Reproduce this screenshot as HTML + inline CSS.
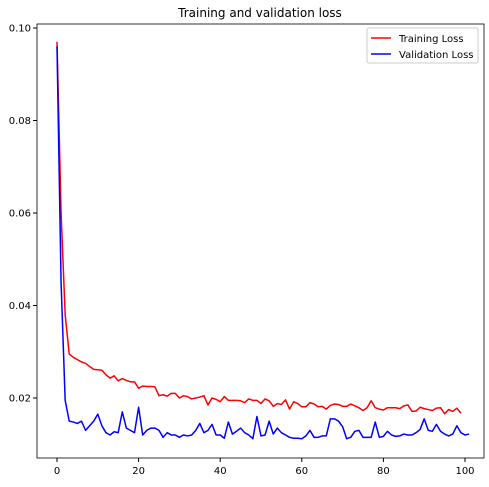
<!DOCTYPE html>
<html><head><meta charset="utf-8"><style>
body{margin:0;background:#fff;font-family:"Liberation Sans","DejaVu Sans",sans-serif;}
svg text{font-family:"DejaVu Sans","Liberation Sans",sans-serif;}
</style></head><body>
<svg id="chart" width="489" height="482">
<text x="260" y="17" font-size="12" text-anchor="middle">Training and validation loss</text>
<g id="axes"></g>
<g id="series"></g>
<rect x="37" y="24" width="447" height="434" fill="none" stroke="#000" stroke-width="0.8"/>
<g>
<rect x="367" y="28" width="111" height="35" rx="2" fill="#fff" stroke="#ccc"/>
<line x1="371" y1="38" x2="391" y2="38" stroke="red" stroke-width="1.5"/>
<text x="399" y="42" font-size="10">Training Loss</text>
<line x1="371" y1="54" x2="391" y2="54" stroke="blue" stroke-width="1.5"/>
<text x="399" y="58" font-size="10">Validation Loss</text>
</g>
</svg>
<script>
const xTicks=[0,20,40,60,80,100];
const yTicks=[0.02,0.04,0.06,0.08,0.10];
const yTickLabels=["0.02","0.04","0.06","0.08","0.10"];
const trainLoss=[0.097,0.060,0.038,0.0295,0.0288,0.0283,0.0278,0.0275,0.0268,0.0262,0.0261,0.026,0.025,0.0243,0.0248,0.0237,0.0242,0.0238,0.0235,0.0235,0.0221,0.0226,0.0225,0.0225,0.0224,0.0205,0.0207,0.0204,0.021,0.021,0.020,0.0205,0.0203,0.0198,0.020,0.0202,0.0205,0.0185,0.020,0.0197,0.0192,0.0203,0.0195,0.0195,0.0195,0.0194,0.019,0.0198,0.0195,0.0195,0.0188,0.0198,0.0194,0.0182,0.0188,0.0186,0.0196,0.0176,0.0192,0.0188,0.0181,0.0181,0.019,0.0187,0.0181,0.0182,0.0176,0.0184,0.0187,0.0186,0.0182,0.0182,0.0187,0.0183,0.0179,0.0173,0.0179,0.0194,0.0179,0.0176,0.0174,0.0179,0.0179,0.0179,0.0177,0.0183,0.0185,0.0171,0.0172,0.018,0.0177,0.0175,0.0173,0.0178,0.0179,0.0166,0.0175,0.0171,0.0178,0.0167];
const valLoss=[0.096,0.045,0.0195,0.015,0.0148,0.0145,0.015,0.013,0.014,0.015,0.0165,0.014,0.0125,0.012,0.0127,0.0125,0.017,0.0135,0.013,0.0125,0.018,0.012,0.013,0.0135,0.0135,0.013,0.0115,0.0125,0.012,0.012,0.0115,0.012,0.0118,0.012,0.013,0.0145,0.0125,0.013,0.0143,0.012,0.012,0.0113,0.0148,0.0122,0.0128,0.0135,0.0125,0.012,0.0112,0.016,0.0118,0.012,0.015,0.0122,0.0135,0.0125,0.012,0.0115,0.0113,0.0113,0.0112,0.0118,0.013,0.0115,0.0115,0.0118,0.0118,0.0155,0.0155,0.015,0.0138,0.0112,0.0115,0.0128,0.013,0.0115,0.0115,0.0115,0.0148,0.0115,0.0117,0.0128,0.012,0.0117,0.0118,0.0122,0.012,0.012,0.0125,0.0132,0.0155,0.013,0.0128,0.0143,0.0128,0.0122,0.0118,0.0122,0.014,0.0125,0.012,0.0122];
const X0=57,X1=465,Y0=398,YPER=(398-28)/0.08;
const sx=v=>X0+(X1-X0)*v/100;
const sy=v=>Y0-(v-0.02)*YPER;
const NS="http://www.w3.org/2000/svg";
const axes=document.getElementById('axes');
xTicks.forEach(t=>{
 const l=document.createElementNS(NS,'line');
 l.setAttribute('x1',sx(t));l.setAttribute('x2',sx(t));l.setAttribute('y1',458);l.setAttribute('y2',462);l.setAttribute('stroke','#000');
 
 
 axes.appendChild(l);
 const tx=document.createElementNS(NS,'text');
 tx.setAttribute('x',sx(t));tx.setAttribute('y',474);tx.setAttribute('font-size','10');tx.setAttribute('text-anchor','middle');tx.textContent=t;
 
 
 axes.appendChild(tx);
});
yTicks.forEach((t,i)=>{
 const l=document.createElementNS(NS,'line');
 l.setAttribute('x1',33);l.setAttribute('x2',37);l.setAttribute('y1',sy(t));l.setAttribute('y2',sy(t));l.setAttribute('stroke','#000');
 
 
 axes.appendChild(l);
 const tx=document.createElementNS(NS,'text');
 tx.setAttribute('x',31);tx.setAttribute('y',sy(t)+3.5);tx.setAttribute('font-size','10');tx.setAttribute('text-anchor','end');tx.textContent=yTickLabels[i];
 
 
 axes.appendChild(tx);
});
const series=document.getElementById('series');
function line(data,color,name){
 const p=document.createElementNS(NS,'polyline');
 p.setAttribute('points',data.map((v,i)=>sx(i)+','+sy(v)).join(' '));
 p.setAttribute('fill','none');p.setAttribute('stroke',color);p.setAttribute('stroke-width','1.5');p.setAttribute('stroke-linejoin','round');
 
 
 series.appendChild(p);
}
line(trainLoss,'red','training-loss-line');
line(valLoss,'blue','validation-loss-line');
</script>
</body></html>
